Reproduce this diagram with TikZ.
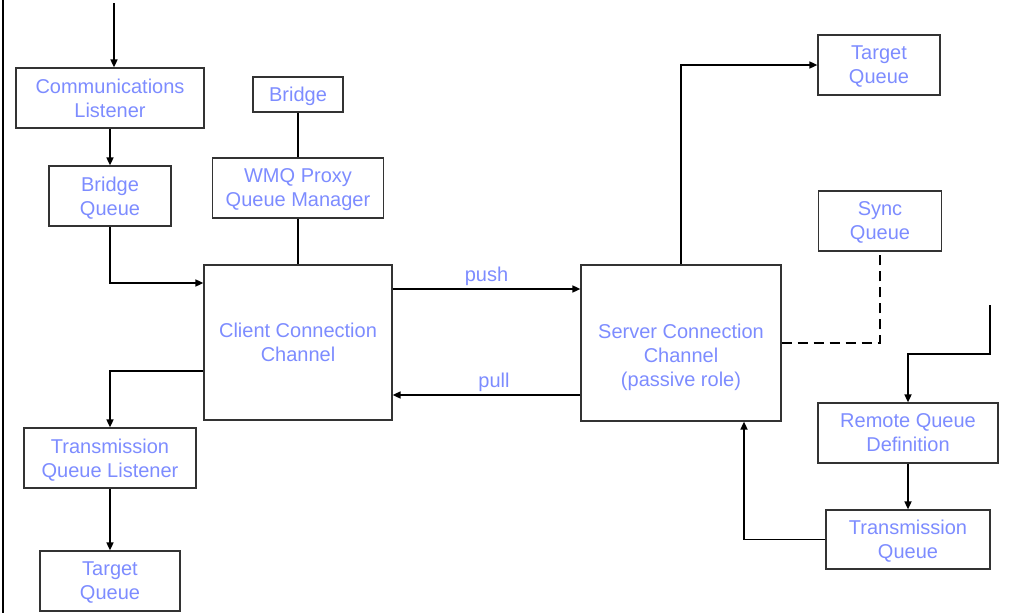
\documentclass[tikz,border=0pt]{standalone}
\usepackage{fontspec}
\setmainfont{Liberation Sans}
\usetikzlibrary{arrows.meta}
\definecolor{lbl}{RGB}{125,140,255}
\begin{document}
\begin{tikzpicture}[x=1pt,y=-1pt,
  box/.style={draw=black!80,line width=1.2pt,inner sep=0pt,minimum height=60,
    align=center,text=lbl,font=\fontsize{20}{24}\selectfont,text depth=0pt},
  arr/.style={line width=1.6pt,-{Triangle[length=8pt,width=7pt]}},
  ln/.style={line width=1.6pt},
  lab/.style={text=lbl,font=\fontsize{20}{24}\selectfont,above=-1pt}]
 \useasboundingbox (0,0) rectangle (1034,613);
 \draw[ln] (3,0) -- (3,613);
 % client side
 \node[box,minimum width=188] (comm) at (110,98) {Communications\\Listener};
 \node[box,minimum width=122] (bq) at (110,196) {Bridge\\Queue};
 \node[box,minimum width=90,minimum height=35] (bridge) at (298,94.5) {Bridge};
 \node[box,minimum width=171] (wmq) at (298,188) {WMQ Proxy\\Queue Manager};
 \node[box,minimum width=188,minimum height=155] (ccc) at (298,342.5) {Client Connection\\Channel};
 \node[box,minimum width=172] (tql) at (110,458) {Transmission\\Queue Listener};
 \node[box,minimum width=140] (tgtl) at (110,581) {Target\\Queue};
 % server side
 \node[box,minimum width=200,minimum height=156,text height=86.6pt]
   (scc) at (681,343) {Server Connection\\Channel\\(passive role)};
 \node[box,minimum width=122] (tgtr) at (879,65) {Target\\Queue};
 \node[box,minimum width=123] (sync) at (880,221) {Sync\\Queue};
 \node[box,minimum width=180] (rqd) at (908,433) {Remote Queue\\Definition};
 \node[box,minimum width=164,minimum height=59] (tq) at (908,539.5) {Transmission\\Queue};
 \coordinate (in1) at (114,3);
 \coordinate (in2) at (990,305);
 \draw[arr] (in1) -- (in1 |- comm.north);
 \draw[arr] (comm) -- (bq);
 \draw[ln] (bridge) -- (wmq);
 \draw[ln] (wmq) -- (ccc);
 \draw[arr] (bq.south) |- (ccc.west |- 0,283);
 \draw[arr] (ccc.west |- 0,371) -| (tql.north);
 \draw[arr] (tql) -- (tgtl);
 \draw[arr] (ccc.east |- 0,289) -- node[lab] {push} (scc.west |- 0,289);
 \draw[arr] (scc.west |- 0,395) -- node[lab,pos=0.46] {pull} (ccc.east |- 0,395);
 \draw[arr] (scc.north) |- (tgtr.west);
 \draw[ln,dash pattern=on 10pt off 6pt] (scc.east) -| (sync.south);
 \draw[arr] (in2) -- (in2 |- 0,354) -| (rqd.north);
 \draw[arr] (rqd) -- (tq);
 \draw[arr] (tq.west) -| (scc.south -| 744,0);
\end{tikzpicture}
\end{document}
